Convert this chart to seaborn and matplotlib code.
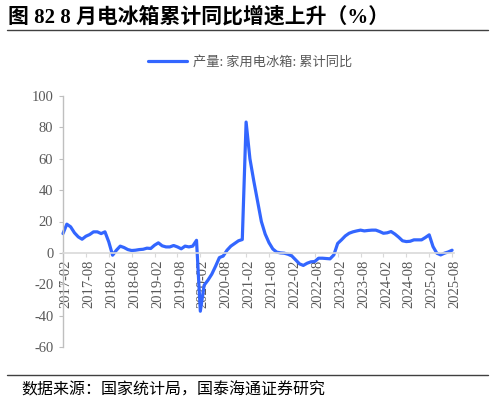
import numpy as np
import pandas as pd
import matplotlib
matplotlib.use("Agg")
import matplotlib.pyplot as plt
import matplotlib.transforms as mtransforms
from matplotlib.lines import Line2D
import seaborn as sns

# monthly cumulative yoy growth of household refrigerator output, 2017-02 .. 2025-08
months = [p.strftime("%Y-%m") for p in pd.period_range("2017-02", "2025-08", freq="M")]

v2017 = [12.3, 18.3, 16.6, 12.8, 10.2, 8.7, 10.6, 11.7, 13.4, 13.4, 12.3]
v2018 = [13.4, 7.0, -1.5, 1.7, 4.3, 3.4, 2.1, 1.5, 1.7, 2.1, 2.3, 3.0]
v2019 = [2.8, 4.9, 6.4, 4.5, 3.8, 3.8, 4.7, 3.8, 2.6, 4.3, 3.8, 4.3]
v2020 = [8.0, -37.2, -20.6, -17.4, -13.6, -8.5, -3.0, -2.0, 1.7, 4.3, 6.0, 7.7]
v2021 = [8.5, 83.4, 60.0, 46.0, 33.0, 20.0, 12.0, 6.5, 2.5, 0.5, 0.0, -0.2]
v2022 = [-0.9, -2.0, -4.5, -7.0, -8.0, -6.6, -5.7, -5.5, -3.4, -3.4, -3.6, -3.8]
v2023 = [-1.3, 6.0, 8.3, 10.8, 12.5, 13.4, 14.0, 14.5, 14.0, 14.3, 14.5, 14.5]
v2024 = [13.6, 12.5, 12.8, 13.6, 12.0, 10.0, 7.7, 7.2, 7.4, 8.3, 8.3, 8.3]
v2025 = [9.8, 11.5, 4.0, -0.2, -1.3, -0.2, 0.6, 1.7]

values = v2017 + v2018 + v2019 + v2020 + v2021 + v2022 + v2023 + v2024 + v2025
series_name = "产量: 家用电冰箱: 累计同比"
y_ticks = [-60, -40, -20, 0, 20, 40, 60, 80, 100]

df = pd.DataFrame({"idx": np.arange(len(months)), "month": months, "value": values})

sns.set_style("white")
plt.rcParams["font.family"] = ["Liberation Serif", "Noto Sans CJK SC", "DejaVu Sans"]

fig = plt.figure(figsize=(4.94, 4.05), dpi=100)
ax = fig.add_axes([63 / 494, 1 - 347 / 405, (454 - 63) / 494, (347 - 96) / 405])

sns.lineplot(data=df, x="idx", y="value", ax=ax, color="#3366ff", linewidth=2.3,
             label=series_name, clip_on=False)

ax.set_xlim(0, len(months) - 0.5)
ax.set_ylim(-60, 100)
ax.set_yticks(y_ticks)
ax.set_yticklabels([str(t) for t in y_ticks])
ax.set_xticks(df["idx"][::6])
ax.set_xticklabels(df["month"][::6])
ax.set_xlabel("")
ax.set_ylabel("")

for s in ["top", "right"]:
    ax.spines[s].set_visible(False)
ax.spines["bottom"].set_position(("data", 0))
ax.spines["bottom"].set_color("#d9d9d9")
ax.spines["bottom"].set_linewidth(1.2)
ax.spines["left"].set_color("#bfbfbf")
ax.spines["left"].set_linewidth(1.0)

ax.tick_params(axis="y", length=3, width=0.8, color="#bfbfbf", pad=4,
               labelsize=10.5, labelcolor="#595959", left=True)
ax.tick_params(axis="x", length=3, width=0.8, color="#d9d9d9", pad=2,
               labelsize=10.5, labelcolor="#595959", bottom=True, labelrotation=90)
shift = mtransforms.ScaledTranslation(3 / 100, 0, fig.dpi_scale_trans)
for lab in ax.get_xticklabels():
    lab.set_ha("center")
    lab.set_va("top")
    lab.set_transform(lab.get_transform() + shift)

leg = ax.legend(loc="center", bbox_to_anchor=(0.506, 1 - 62 / 405),
                bbox_transform=fig.transFigure, frameon=False,
                handlelength=3.0, handletextpad=0.4,
                prop={"family": ["Noto Sans CJK SC"], "size": 9.5})
for t in leg.get_texts():
    t.set_color("#595959")

# title, rules and source
fig.text(8 / 494, 1 - 17 / 405, "图 82 8 月电冰箱累计同比增速上升（%）",
         fontsize=15, fontweight="bold", va="center", ha="left",
         family=["Liberation Serif", "Noto Sans CJK SC"], color="black")
fig.add_artist(Line2D([7 / 494, 488 / 494], [1 - 30 / 405, 1 - 30 / 405],
                      transform=fig.transFigure, color="#404040", linewidth=1.0))
fig.add_artist(Line2D([7 / 494, 488 / 494], [1 - 375 / 405, 1 - 375 / 405],
                      transform=fig.transFigure, color="#404040", linewidth=1.0))
fig.text(21 / 494, 1 - 390 / 405, "数据来源：国家统计局，国泰海通证券研究",
         fontsize=11.5, va="center", ha="left",
         family=["Noto Sans CJK SC"], color="black")

fig.savefig("out.png", dpi=100)
